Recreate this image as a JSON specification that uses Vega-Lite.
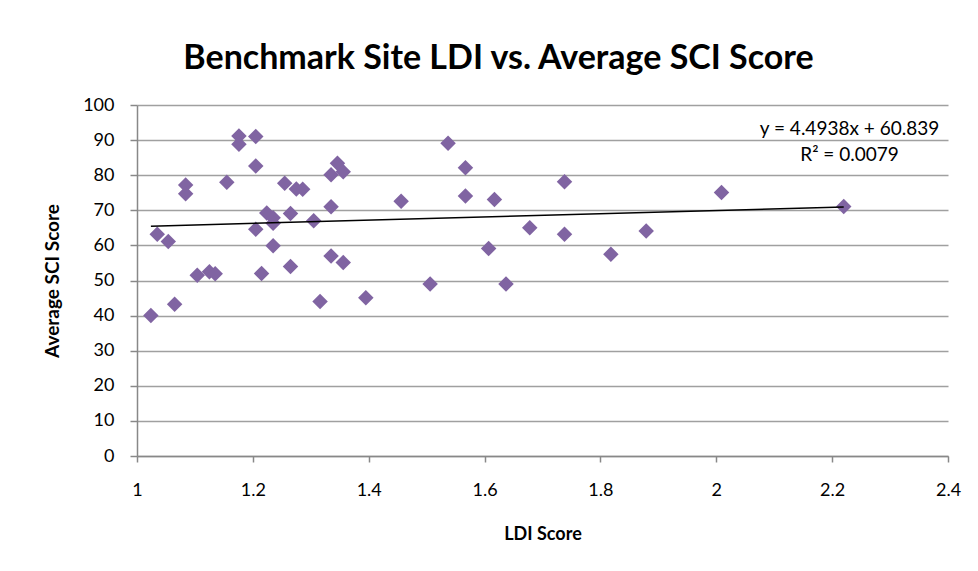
{
  "$schema": "https://vega.github.io/schema/vega-lite/v6.json",
  "width": 811,
  "height": 351,
  "autosize": {"type": "none"},
  "padding": {"left": 137, "top": 105, "right": 30, "bottom": 115},
  "background": "white",
  "config": {"view": {"stroke": null}},
  "title": {
    "text": "Benchmark Site LDI vs. Average SCI Score",
    "font": "Lato",
    "fontSize": 34,
    "fontWeight": "bold",
    "color": "black",
    "anchor": "middle",
    "frame": "group",
    "dx": -44,
    "offset": 20
  },
  "data": {
    "values": [
      {"ldi": 1.024, "sci": 40.0},
      {"ldi": 1.035, "sci": 63.2},
      {"ldi": 1.054, "sci": 61.1},
      {"ldi": 1.065, "sci": 43.2},
      {"ldi": 1.084, "sci": 77.2},
      {"ldi": 1.084, "sci": 74.7},
      {"ldi": 1.104, "sci": 51.5},
      {"ldi": 1.125, "sci": 52.5},
      {"ldi": 1.135, "sci": 51.9},
      {"ldi": 1.155, "sci": 78.0},
      {"ldi": 1.176, "sci": 91.2},
      {"ldi": 1.176, "sci": 88.8},
      {"ldi": 1.205, "sci": 91.0},
      {"ldi": 1.205, "sci": 82.6},
      {"ldi": 1.205, "sci": 64.6},
      {"ldi": 1.215, "sci": 52.0},
      {"ldi": 1.224, "sci": 69.2},
      {"ldi": 1.235, "sci": 67.9},
      {"ldi": 1.235, "sci": 66.3},
      {"ldi": 1.235, "sci": 59.9},
      {"ldi": 1.255, "sci": 77.7},
      {"ldi": 1.265, "sci": 69.1},
      {"ldi": 1.265, "sci": 54.0},
      {"ldi": 1.275, "sci": 76.1},
      {"ldi": 1.286, "sci": 76.0},
      {"ldi": 1.305, "sci": 67.0},
      {"ldi": 1.316, "sci": 44.0},
      {"ldi": 1.335, "sci": 80.1},
      {"ldi": 1.335, "sci": 71.0},
      {"ldi": 1.335, "sci": 57.0},
      {"ldi": 1.346, "sci": 83.4},
      {"ldi": 1.356, "sci": 81.0},
      {"ldi": 1.356, "sci": 55.1},
      {"ldi": 1.395, "sci": 45.1},
      {"ldi": 1.456, "sci": 72.6},
      {"ldi": 1.506, "sci": 49.0},
      {"ldi": 1.537, "sci": 89.1},
      {"ldi": 1.567, "sci": 82.1},
      {"ldi": 1.567, "sci": 74.1},
      {"ldi": 1.607, "sci": 59.1},
      {"ldi": 1.617, "sci": 73.1},
      {"ldi": 1.637, "sci": 49.0},
      {"ldi": 1.678, "sci": 65.0},
      {"ldi": 1.738, "sci": 78.1},
      {"ldi": 1.738, "sci": 63.2},
      {"ldi": 1.818, "sci": 57.5},
      {"ldi": 1.879, "sci": 64.1},
      {"ldi": 2.009, "sci": 75.1},
      {"ldi": 2.22, "sci": 71.1}
    ]
  },
  "encoding": {
    "x": {
      "field": "ldi",
      "type": "quantitative",
      "title": "LDI Score",
      "scale": {"domain": [1, 2.4], "nice": false, "zero": false},
      "axis": {
        "values": [1, 1.2, 1.4, 1.6, 1.8, 2, 2.2, 2.4],
        "format": "~g",
        "grid": false,
        "domainColor": "#888888",
        "domainWidth": 1.5,
        "tickColor": "#888888",
        "tickWidth": 1.5,
        "tickSize": 6,
        "labelFont": "Lato",
        "labelFontSize": 18,
        "labelColor": "black",
        "labelPadding": 19,
        "labelFlush": false,
        "titleFont": "Lato",
        "titleFontSize": 18,
        "titleFontWeight": "bold",
        "titleColor": "black",
        "titlePadding": 26
      }
    },
    "y": {
      "field": "sci",
      "type": "quantitative",
      "title": "Average SCI Score",
      "scale": {"domain": [0, 100], "nice": false},
      "axis": {
        "values": [0, 10, 20, 30, 40, 50, 60, 70, 80, 90, 100],
        "grid": true,
        "gridColor": "#a0a0a0",
        "gridWidth": 1.5,
        "domainColor": "#888888",
        "domainWidth": 1.5,
        "tickColor": "#888888",
        "tickWidth": 1.5,
        "tickSize": 7,
        "labelFont": "Lato",
        "labelFontSize": 18,
        "labelColor": "black",
        "labelPadding": 16,
        "titleFont": "Lato",
        "titleFontSize": 19,
        "titleFontWeight": "bold",
        "titleColor": "black",
        "titlePadding": 20
      }
    }
  },
  "layer": [
    {
      "mark": {"type": "point", "shape": "diamond", "filled": true, "size": 240, "color": "#8064A2", "opacity": 1}
    },
    {
      "transform": [{"regression": "sci", "on": "ldi"}],
      "mark": {"type": "line", "color": "black", "strokeWidth": 1.5}
    },
    {
      "data": {
        "values": [
          {"ldi": 2.23, "sci": 93.1, "label": "y = 4.4938x + 60.839"},
          {"ldi": 2.23, "sci": 85.8, "label": "R² = 0.0079"}
        ]
      },
      "mark": {"type": "text", "font": "Lato", "fontSize": 19, "color": "black"},
      "encoding": {"text": {"field": "label", "type": "nominal"}}
    }
  ]
}
